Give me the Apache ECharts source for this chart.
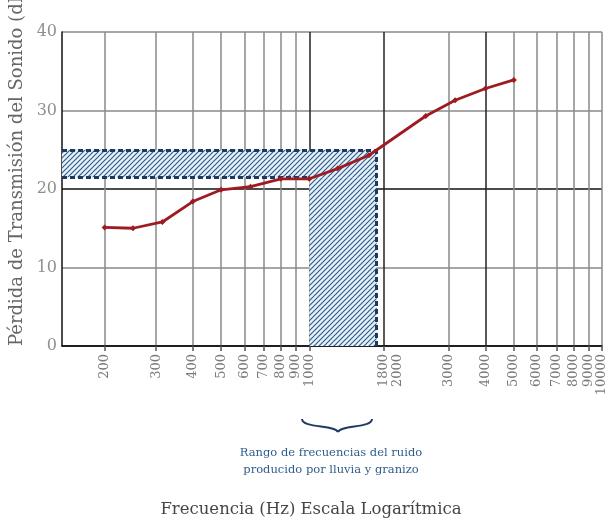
<!DOCTYPE html>
<html>
<head>
<meta charset="utf-8">
<script src="https://cdn.jsdelivr.net/npm/echarts@6/dist/echarts.min.js"></script>
<style>
  html, body { margin: 0; padding: 0; background: #ffffff; }
  #chart { width: 611px; height: 523px; }
</style>
</head>
<body>
<div id="chart"></div>
<script>
// ---- data ----
const FREQ_HZ = [200, 250, 315, 400, 500, 630, 800, 1000, 1250, 1600, 2500, 3150, 4000, 5000];
const TL_DB   = [15.1, 15.0, 15.8, 18.4, 19.9, 20.3, 21.3, 21.3, 22.6, 24.3, 29.3, 31.3, 32.8, 33.9];
const GRID_FREQS  = [200, 300, 400, 500, 600, 700, 800, 900, 1000, 1800, 3000, 4000, 5000, 6000, 7000, 8000, 9000, 10000];
const LABEL_FREQS = [200, 300, 400, 500, 600, 700, 800, 900, 1000, 1800, 2000, 3000, 4000, 5000, 6000, 7000, 8000, 9000, 10000];
const X_RANGE = [143, 10000];
const Y_TICKS = [0, 10, 20, 30, 40];
const RAIN_BAND_HZ = [1000, 1700];
const RAIN_BAND_DB = [21.5, 25];

const X_TITLE = 'Frecuencia (Hz) Escala Logarítmica';
const Y_TITLE = 'Pérdida de Transmisión del Sonido (dB)';
const NOTE_LINES = ['Rango de frecuencias del ruido', 'producido por lluvia y granizo'];

// ---- hatch pattern ----
function makeHatch() {
  const s = 5;
  const c = document.createElement('canvas');
  c.width = s; c.height = s;
  const g = c.getContext('2d');
  g.fillStyle = '#e8f0f8';
  g.fillRect(0, 0, s, s);
  g.strokeStyle = '#2f5f8f';
  g.lineWidth = 1.2;
  g.beginPath();
  g.moveTo(-1, s + 1); g.lineTo(s + 1, -1);
  g.moveTo(-1, 1); g.lineTo(1, -1);
  g.moveTo(s - 1, s + 1); g.lineTo(s + 1, s - 1);
  g.stroke();
  return c;
}
const hatch = { image: makeHatch(), repeat: 'repeat' };

const FONT = '"DejaVu Serif", "Liberation Serif", serif';
const DASH = { color: '#1d3a5e', width: 3, type: [5, 3] };
const BRACE = { stroke: '#1f3d63', fill: null, lineWidth: 2 };

const chart = echarts.init(document.getElementById('chart'), null, { renderer: 'canvas' });

const gridColors = GRID_FREQS.map(f => (f === 1000 || f === 1800 || f === 4000) ? '#222222' : '#8a8a8a');

chart.setOption({
  animation: false,
  backgroundColor: '#ffffff',
  grid: { left: 62, right: 9, top: 32, bottom: 170, containLabel: false },
  xAxis: {
    type: 'log',
    logBase: 10,
    min: X_RANGE[0],
    max: X_RANGE[1],
    name: X_TITLE,
    nameLocation: 'middle',
    nameGap: 155,
    nameTextStyle: { fontFamily: FONT, fontSize: 16.5, color: '#454545', padding: [0, 42, 0, 0] },
    axisLine: { show: true, lineStyle: { color: '#111', width: 1.5 } },
    axisTick: { show: true, customValues: GRID_FREQS, length: 5, lineStyle: { color: '#555', width: 1.5 } },
    axisLabel: {
      customValues: LABEL_FREQS,
      rotate: 90,
      margin: 8,
      fontFamily: FONT,
      fontSize: 13,
      color: '#7a7a7a',
      formatter: v => String(Math.round(v))
    },
    splitLine: { show: true, lineStyle: { color: gridColors, width: 1.5 } },
    minorSplitLine: { show: false }
  },
  yAxis: {
    type: 'value',
    min: Y_TICKS[0],
    max: Y_TICKS[Y_TICKS.length - 1],
    interval: 10,
    axisLine: { show: true, lineStyle: { color: '#111', width: 1.5 } },
    axisTick: { show: false },
    axisLabel: { fontFamily: FONT, fontSize: 16, color: '#8f8f8f', margin: 5 },
    splitLine: { show: true, lineStyle: { color: ['#111', '#8a8a8a', '#111', '#8a8a8a', '#8a8a8a'], width: 1.5 } }
  },
  series: [
    {
      type: 'line',
      name: 'band',
      data: [],
      silent: true,
      z: 1,
      markArea: {
        silent: true,
        itemStyle: { color: hatch, opacity: 1 },
        data: [
          [{ xAxis: X_RANGE[0], yAxis: RAIN_BAND_DB[0] }, { xAxis: RAIN_BAND_HZ[1], yAxis: RAIN_BAND_DB[1] }],
          [{ xAxis: RAIN_BAND_HZ[0], yAxis: Y_TICKS[0] }, { xAxis: RAIN_BAND_HZ[1], yAxis: RAIN_BAND_DB[0] }]
        ]
      },
      markLine: {
        silent: true,
        symbol: 'none',
        label: { show: false },
        lineStyle: DASH,
        data: [
          [{ coord: [X_RANGE[0], RAIN_BAND_DB[1]] }, { coord: [RAIN_BAND_HZ[1], RAIN_BAND_DB[1]] }],
          [{ coord: [X_RANGE[0], RAIN_BAND_DB[0]] }, { coord: [RAIN_BAND_HZ[0], RAIN_BAND_DB[0]] }],
          [{ coord: [RAIN_BAND_HZ[1], Y_TICKS[0]] }, { coord: [RAIN_BAND_HZ[1], RAIN_BAND_DB[1]] }]
        ]
      }
    },
    {
      type: 'line',
      name: 'TL',
      z: 5,
      data: FREQ_HZ.map((f, i) => [f, TL_DB[i]]),
      symbol: 'diamond',
      symbolSize: 6,
      showSymbol: true,
      lineStyle: { color: '#9e1b21', width: 2.8 },
      itemStyle: { color: '#9e1b21' }
    }
  ],
  graphic: [
    {
      type: 'text',
      x: 17, y: 346,
      rotation: Math.PI / 2,
      style: { text: Y_TITLE, font: '18px ' + FONT, fill: '#666', align: 'left', verticalAlign: 'middle' }
    },
    {
      type: 'bezierCurve',
      shape: { x1: 302, y1: 419, cpx1: 302, cpy1: 428, cpx2: 335, cpy2: 425, x2: 338, y2: 432 },
      style: BRACE
    },
    {
      type: 'bezierCurve',
      shape: { x1: 372, y1: 419, cpx1: 372, cpy1: 428, cpx2: 341, cpy2: 425, x2: 338, y2: 432 },
      style: BRACE
    },
    {
      type: 'text',
      x: 331, y: 453,
      style: { text: NOTE_LINES[0], font: '11.5px ' + FONT, fill: '#2e5d8c', align: 'center', verticalAlign: 'middle' }
    },
    {
      type: 'text',
      x: 331, y: 470,
      style: { text: NOTE_LINES[1], font: '11.5px ' + FONT, fill: '#2e5d8c', align: 'center', verticalAlign: 'middle' }
    }
  ]
});
</script>
</body>
</html>
